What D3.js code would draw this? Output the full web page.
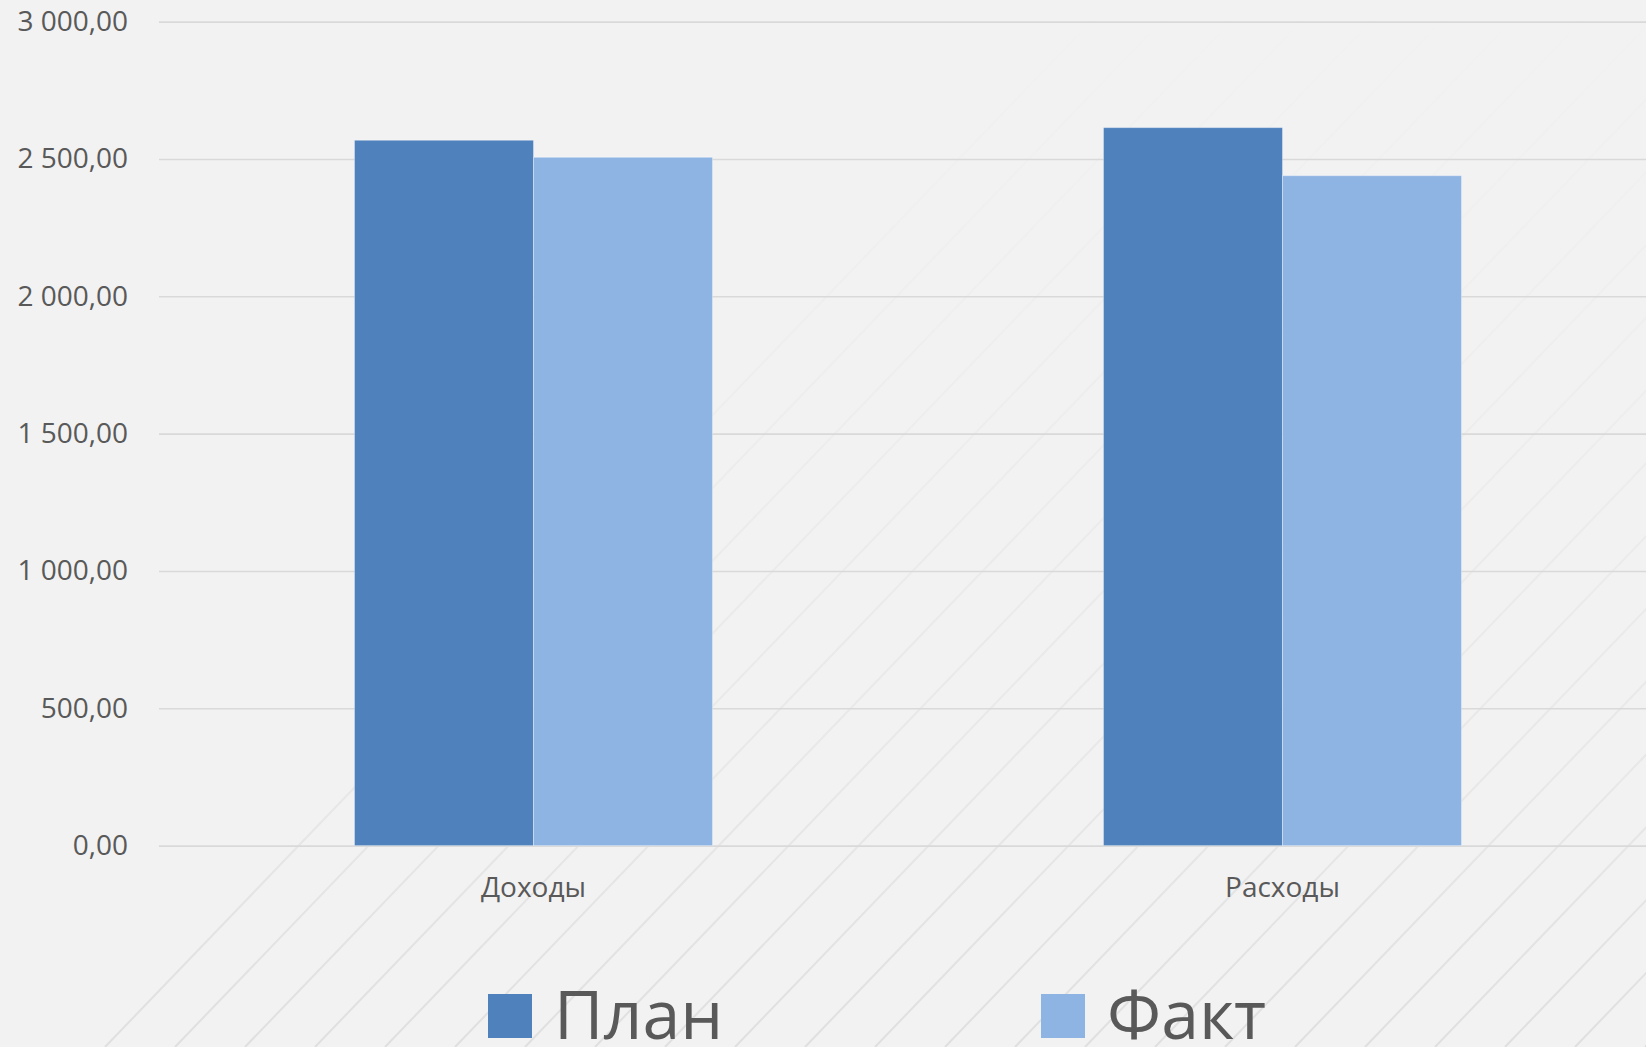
<!DOCTYPE html>
<html>
<head>
<meta charset="utf-8">
<script src="https://cdn.jsdelivr.net/npm/d3@7"></script>
<style>
  html, body { margin: 0; padding: 0; background: #f2f2f2; overflow: hidden; }
  svg { display: block; font-family: "Open Sans", sans-serif; }
</style>
</head>
<body>
<svg width="1646" height="1047"></svg>
<script>
const categories = ["Доходы", "Расходы"];
const series = ["План", "Факт"];
const planValues = [2568, 2614];
const factValues = [2506, 2439];
const yTicks = [0, 500, 1000, 1500, 2000, 2500, 3000];

const colors = { "План": "#4f81bd", "Факт": "#8eb4e3" };

const svg = d3.select("svg");
const width = +svg.attr("width");
const height = +svg.attr("height");

const rows = categories.map((c, i) => ({ cat: c, "План": planValues[i], "Факт": factValues[i] }));

// background
svg.append("rect").attr("width", width).attr("height", height).attr("fill", "#f2f2f2");

// faint diagonal stripes rising from the bottom edge, fading upward
const defs = svg.append("defs");
const grad = defs.append("linearGradient")
  .attr("id", "fade")
  .attr("gradientUnits", "userSpaceOnUse")
  .attr("x1", 0).attr("y1", height).attr("x2", 0).attr("y2", 0);
grad.append("stop").attr("offset", 0).attr("stop-color", "#fff").attr("stop-opacity", 1);
grad.append("stop").attr("offset", 0.25).attr("stop-color", "#fff").attr("stop-opacity", 0.55);
grad.append("stop").attr("offset", 0.7).attr("stop-color", "#fff").attr("stop-opacity", 0.15);
grad.append("stop").attr("offset", 1).attr("stop-color", "#fff").attr("stop-opacity", 0);
defs.append("mask").attr("id", "stripeMask")
  .append("rect").attr("width", width).attr("height", height).attr("fill", "url(#fade)");

const slope = 1.04;
svg.append("g")
  .attr("mask", "url(#stripeMask)")
  .selectAll("line")
  .data(d3.range(105, width + 20, 70))
  .join("line")
    .attr("x1", d => d)
    .attr("y1", height)
    .attr("x2", d => d + height / slope)
    .attr("y2", 0)
    .attr("stroke", "#dfdfdf")
    .attr("stroke-width", 2);

const y = d3.scaleLinear().domain([0, 3000]).range([845.6, 21.6]);
const x0 = d3.scaleBand().domain(categories).range([159, 1657]).padding(0);
const x1 = d3.scaleBand().domain(series).range([0, x0.bandwidth()]).paddingInner(0).paddingOuter(1.092);

const ru = d3.formatLocale({ decimal: ",", thousands: "\u00a0", grouping: [3], currency: ["", ""] });
const fmt = ru.format(",.2f");

// grid + y labels
const yAxis = svg.append("g")
  .attr("transform", "translate(159,0)")
  .call(d3.axisLeft(y).tickValues(yTicks).tickSize(-(width - 159)).tickPadding(31).tickFormat(fmt));
yAxis.select(".domain").remove();
yAxis.selectAll(".tick line").attr("stroke", "#d9d9d9").attr("stroke-width", 1.6);
yAxis.selectAll(".tick text")
  .attr("fill", "#595959")
  .attr("font-size", 28)
  .attr("font-family", "Open Sans, sans-serif");

// bars
svg.append("g")
  .selectAll("g")
  .data(rows)
  .join("g")
    .attr("transform", d => `translate(${x0(d.cat)},0)`)
  .selectAll("rect")
  .data(d => series.map(s => ({ s, v: d[s] })))
  .join("rect")
    .attr("x", d => x1(d.s))
    .attr("width", x1.bandwidth())
    .attr("y", d => y(d.v))
    .attr("height", d => y(0) - y(d.v))
    .attr("fill", d => colors[d.s])
    .attr("stroke", "rgba(255,255,255,0.35)")
    .attr("stroke-width", 1);

// x labels
svg.append("g")
  .selectAll("text")
  .data(categories)
  .join("text")
    .attr("x", d => x0(d) + x0.bandwidth() / 2)
    .attr("y", 897)
    .attr("text-anchor", "middle")
    .attr("fill", "#595959")
    .attr("font-size", 28)
    .text(d => d);

// legend (cut by the bottom edge, as in the source)
const legendX = [488, 1041];
const legend = svg.append("g")
  .selectAll("g")
  .data(series)
  .join("g")
    .attr("transform", (d, i) => `translate(${legendX[i]},994)`);
legend.append("rect")
  .attr("width", 44).attr("height", 44)
  .attr("fill", d => colors[d]);
legend.append("text")
  .attr("x", 66)
  .attr("y", 45)
  .attr("fill", "#595959")
  .attr("font-size", 68)
  .text(d => d);
</script>
</body>
</html>
